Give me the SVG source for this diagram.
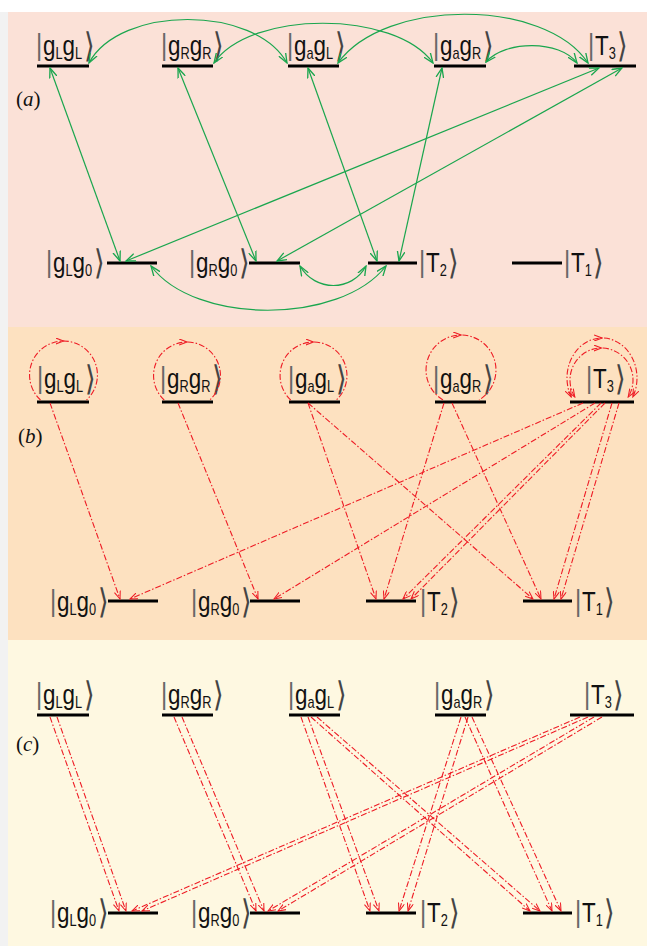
<svg xmlns="http://www.w3.org/2000/svg" width="647" height="946" viewBox="0 0 647 946">
<style>
.lv{stroke:#000;stroke-width:3}
.k{font-family:"Liberation Sans","DejaVu Sans",sans-serif;font-size:28px;fill:#111}
.s{font-size:16px}
.bb{font-size:30px;fill:#666}
.bk{font-family:"DejaVu Sans",sans-serif;font-size:34px;font-weight:200;fill:#444}
.pl{font-family:"Liberation Serif",serif;font-size:21px;fill:#111}
.g{fill:none;stroke:#1AA64E;stroke-width:1.2;marker-start:url(#ga);marker-end:url(#ga)}
.r{fill:none;stroke:#EE1C25;stroke-width:1.1;stroke-dasharray:6 2 1.5 2;marker-end:url(#ra)}
.lp{fill:none;stroke:#EE1C25;stroke-width:1.1;stroke-dasharray:6 2 1.5 2;marker-mid:url(#ra)}
.lp2{marker-start:url(#ra);marker-end:url(#ra)}
</style>
<defs>
<marker id="ga" viewBox="0 0 10 8" refX="9" refY="4" markerWidth="11" markerHeight="9" markerUnits="userSpaceOnUse" orient="auto-start-reverse"><path d="M0,0.5 L9,4 L0,7.5" fill="none" stroke="#1AA64E" stroke-width="1.2"/></marker>
<marker id="ra" viewBox="0 0 10 8" refX="9" refY="4" markerWidth="9" markerHeight="7" markerUnits="userSpaceOnUse" orient="auto-start-reverse"><path d="M0,0.5 L9,4 L0,7.5" fill="none" stroke="#EE1C25" stroke-width="1.2"/></marker>
</defs>
<rect x="0" y="0" width="647" height="946" fill="#fff"/>
<rect x="0" y="12" width="8" height="934" fill="#F2F2F2"/>
<rect x="8" y="12" width="639" height="315" fill="#FBE1D7"/>
<rect x="8" y="327" width="639" height="313" fill="#FDE1C0"/>
<rect x="8" y="640" width="639" height="306" fill="#FEF8E1"/>

<text class="pl" x="16" y="106">(<tspan font-style="italic">a</tspan>)</text>
<text class="pl" x="18" y="443">(<tspan font-style="italic">b</tspan>)</text>
<text class="pl" x="16" y="751">(<tspan font-style="italic">c</tspan>)</text>

<!-- Panel a nodes -->
<g id="a-gLgL"><line class="lv" x1="37" y1="66" x2="89" y2="66"/><text class="k" transform="translate(36 55) scale(.8 1)"><tspan class="bb">|</tspan><tspan dx="1">g</tspan><tspan class="s" dy="4">L</tspan><tspan dy="-4">g</tspan><tspan class="s" dy="4">L</tspan><tspan class="bk" dy="-2" dx="2">⟩</tspan></text></g>
<g id="a-gRgR"><line class="lv" x1="162" y1="66" x2="213" y2="66"/><text class="k" transform="translate(161 55) scale(.8 1)"><tspan class="bb">|</tspan><tspan dx="1">g</tspan><tspan class="s" dy="4">R</tspan><tspan dy="-4">g</tspan><tspan class="s" dy="4">R</tspan><tspan class="bk" dy="-2" dx="2">⟩</tspan></text></g>
<g id="a-gagL"><line class="lv" x1="288" y1="66" x2="339" y2="66"/><text class="k" transform="translate(287 55) scale(.8 1)"><tspan class="bb">|</tspan><tspan dx="1">g</tspan><tspan class="s" dy="4">a</tspan><tspan dy="-4">g</tspan><tspan class="s" dy="4">L</tspan><tspan class="bk" dy="-2" dx="2">⟩</tspan></text></g>
<g id="a-gagR"><line class="lv" x1="434" y1="66" x2="486" y2="66"/><text class="k" transform="translate(433 55) scale(.8 1)"><tspan class="bb">|</tspan><tspan dx="1">g</tspan><tspan class="s" dy="4">a</tspan><tspan dy="-4">g</tspan><tspan class="s" dy="4">R</tspan><tspan class="bk" dy="-2" dx="2">⟩</tspan></text></g>
<g id="a-T3"><line class="lv" x1="574" y1="66" x2="636" y2="66"/><text class="k" transform="translate(588 55) scale(.8 1)"><tspan class="bb">|</tspan><tspan dx="1">T</tspan><tspan class="s" dy="4">3</tspan><tspan class="bk" dy="-2" dx="2">⟩</tspan></text></g>
<g id="a-gLg0"><line class="lv" x1="107" y1="263" x2="157" y2="263"/><text class="k" transform="translate(46 272) scale(.8 1)"><tspan class="bb">|</tspan><tspan dx="1">g</tspan><tspan class="s" dy="4">L</tspan><tspan dy="-4">g</tspan><tspan class="s" dy="4">0</tspan><tspan class="bk" dy="-2" dx="2">⟩</tspan></text></g>
<g id="a-gRg0"><line class="lv" x1="249" y1="263" x2="300" y2="263"/><text class="k" transform="translate(189 272) scale(.8 1)"><tspan class="bb">|</tspan><tspan dx="1">g</tspan><tspan class="s" dy="4">R</tspan><tspan dy="-4">g</tspan><tspan class="s" dy="4">0</tspan><tspan class="bk" dy="-2" dx="2">⟩</tspan></text></g>
<g id="a-T2"><line class="lv" x1="368" y1="263" x2="417" y2="263"/><text class="k" transform="translate(419 272) scale(.8 1)"><tspan class="bb">|</tspan><tspan dx="1">T</tspan><tspan class="s" dy="4">2</tspan><tspan class="bk" dy="-2" dx="2">⟩</tspan></text></g>
<g id="a-T1"><line class="lv" x1="512" y1="263" x2="562" y2="263"/><text class="k" transform="translate(564 272) scale(.8 1)"><tspan class="bb">|</tspan><tspan dx="1">T</tspan><tspan class="s" dy="4">1</tspan><tspan class="bk" dy="-2" dx="2">⟩</tspan></text></g>

<!-- Panel b nodes -->
<g id="b-gLgL"><line class="lv" x1="37" y1="402" x2="89" y2="402"/><text class="k" transform="translate(37 388) scale(.8 1)"><tspan class="bb">|</tspan><tspan dx="1">g</tspan><tspan class="s" dy="4">L</tspan><tspan dy="-4">g</tspan><tspan class="s" dy="4">L</tspan><tspan class="bk" dy="-2" dx="2">⟩</tspan></text></g>
<g id="b-gRgR"><line class="lv" x1="162" y1="402" x2="213" y2="402"/><text class="k" transform="translate(160 388) scale(.8 1)"><tspan class="bb">|</tspan><tspan dx="1">g</tspan><tspan class="s" dy="4">R</tspan><tspan dy="-4">g</tspan><tspan class="s" dy="4">R</tspan><tspan class="bk" dy="-2" dx="2">⟩</tspan></text></g>
<g id="b-gagL"><line class="lv" x1="289" y1="402" x2="340" y2="402"/><text class="k" transform="translate(288 388) scale(.8 1)"><tspan class="bb">|</tspan><tspan dx="1">g</tspan><tspan class="s" dy="4">a</tspan><tspan dy="-4">g</tspan><tspan class="s" dy="4">L</tspan><tspan class="bk" dy="-2" dx="2">⟩</tspan></text></g>
<g id="b-gagR"><line class="lv" x1="435" y1="402" x2="486" y2="402"/><text class="k" transform="translate(433 388) scale(.8 1)"><tspan class="bb">|</tspan><tspan dx="1">g</tspan><tspan class="s" dy="4">a</tspan><tspan dy="-4">g</tspan><tspan class="s" dy="4">R</tspan><tspan class="bk" dy="-2" dx="2">⟩</tspan></text></g>
<g id="b-T3"><line class="lv" x1="570" y1="402" x2="634" y2="402"/><text class="k" transform="translate(586 388) scale(.8 1)"><tspan class="bb">|</tspan><tspan dx="1">T</tspan><tspan class="s" dy="4">3</tspan><tspan class="bk" dy="-2" dx="2">⟩</tspan></text></g>
<g id="b-gLg0"><line class="lv" x1="108" y1="601" x2="158" y2="601"/><text class="k" transform="translate(50 611) scale(.8 1)"><tspan class="bb">|</tspan><tspan dx="1">g</tspan><tspan class="s" dy="4">L</tspan><tspan dy="-4">g</tspan><tspan class="s" dy="4">0</tspan><tspan class="bk" dy="-2" dx="2">⟩</tspan></text></g>
<g id="b-gRg0"><line class="lv" x1="250" y1="601" x2="300" y2="601"/><text class="k" transform="translate(191 611) scale(.8 1)"><tspan class="bb">|</tspan><tspan dx="1">g</tspan><tspan class="s" dy="4">R</tspan><tspan dy="-4">g</tspan><tspan class="s" dy="4">0</tspan><tspan class="bk" dy="-2" dx="2">⟩</tspan></text></g>
<g id="b-T2"><line class="lv" x1="366" y1="601" x2="416" y2="601"/><text class="k" transform="translate(420 611) scale(.8 1)"><tspan class="bb">|</tspan><tspan dx="1">T</tspan><tspan class="s" dy="4">2</tspan><tspan class="bk" dy="-2" dx="2">⟩</tspan></text></g>
<g id="b-T1"><line class="lv" x1="523" y1="601" x2="572" y2="601"/><text class="k" transform="translate(575 611) scale(.8 1)"><tspan class="bb">|</tspan><tspan dx="1">T</tspan><tspan class="s" dy="4">1</tspan><tspan class="bk" dy="-2" dx="2">⟩</tspan></text></g>

<!-- Panel c nodes -->
<g id="c-gLgL"><line class="lv" x1="37" y1="715" x2="89" y2="715"/><text class="k" transform="translate(36 704) scale(.8 1)"><tspan class="bb">|</tspan><tspan dx="1">g</tspan><tspan class="s" dy="4">L</tspan><tspan dy="-4">g</tspan><tspan class="s" dy="4">L</tspan><tspan class="bk" dy="-2" dx="2">⟩</tspan></text></g>
<g id="c-gRgR"><line class="lv" x1="162" y1="715" x2="213" y2="715"/><text class="k" transform="translate(161 704) scale(.8 1)"><tspan class="bb">|</tspan><tspan dx="1">g</tspan><tspan class="s" dy="4">R</tspan><tspan dy="-4">g</tspan><tspan class="s" dy="4">R</tspan><tspan class="bk" dy="-2" dx="2">⟩</tspan></text></g>
<g id="c-gagL"><line class="lv" x1="289" y1="715" x2="340" y2="715"/><text class="k" transform="translate(288 704) scale(.8 1)"><tspan class="bb">|</tspan><tspan dx="1">g</tspan><tspan class="s" dy="4">a</tspan><tspan dy="-4">g</tspan><tspan class="s" dy="4">L</tspan><tspan class="bk" dy="-2" dx="2">⟩</tspan></text></g>
<g id="c-gagR"><line class="lv" x1="435" y1="715" x2="486" y2="715"/><text class="k" transform="translate(434 704) scale(.8 1)"><tspan class="bb">|</tspan><tspan dx="1">g</tspan><tspan class="s" dy="4">a</tspan><tspan dy="-4">g</tspan><tspan class="s" dy="4">R</tspan><tspan class="bk" dy="-2" dx="2">⟩</tspan></text></g>
<g id="c-T3"><line class="lv" x1="570" y1="715" x2="634" y2="715"/><text class="k" transform="translate(584 704) scale(.8 1)"><tspan class="bb">|</tspan><tspan dx="1">T</tspan><tspan class="s" dy="4">3</tspan><tspan class="bk" dy="-2" dx="2">⟩</tspan></text></g>
<g id="c-gLg0"><line class="lv" x1="108" y1="913" x2="158" y2="913"/><text class="k" transform="translate(50 922) scale(.8 1)"><tspan class="bb">|</tspan><tspan dx="1">g</tspan><tspan class="s" dy="4">L</tspan><tspan dy="-4">g</tspan><tspan class="s" dy="4">0</tspan><tspan class="bk" dy="-2" dx="2">⟩</tspan></text></g>
<g id="c-gRg0"><line class="lv" x1="250" y1="913" x2="300" y2="913"/><text class="k" transform="translate(191 922) scale(.8 1)"><tspan class="bb">|</tspan><tspan dx="1">g</tspan><tspan class="s" dy="4">R</tspan><tspan dy="-4">g</tspan><tspan class="s" dy="4">0</tspan><tspan class="bk" dy="-2" dx="2">⟩</tspan></text></g>
<g id="c-T2"><line class="lv" x1="366" y1="913" x2="416" y2="913"/><text class="k" transform="translate(420 922) scale(.8 1)"><tspan class="bb">|</tspan><tspan dx="1">T</tspan><tspan class="s" dy="4">2</tspan><tspan class="bk" dy="-2" dx="2">⟩</tspan></text></g>
<g id="c-T1"><line class="lv" x1="523" y1="913" x2="572" y2="913"/><text class="k" transform="translate(575 922) scale(.8 1)"><tspan class="bb">|</tspan><tspan dx="1">T</tspan><tspan class="s" dy="4">1</tspan><tspan class="bk" dy="-2" dx="2">⟩</tspan></text></g>

<g id="connectors">
<!-- panel a: green, two-way -->
<path class="g" d="M89 63 C120 5 255 5 287 63"/>
<path class="g" d="M214 63 C250 10 395 10 433 63"/>
<path class="g" d="M338 63 C385 -2 545 -2 588 63"/>
<path class="g" d="M486 62 C505 40 560 40 577 63"/>
<path class="g" d="M50 68 L120 261"/>
<path class="g" d="M178 68 L256 261"/>
<path class="g" d="M308 68 L377 261"/>
<path class="g" d="M442 68 L399 261"/>
<path class="g" d="M599 68 L126 261"/>
<path class="g" d="M622 68 L277 261"/>
<path class="g" d="M300 266 C315 292 352 292 366 266"/>
<path class="g" d="M151 266 C195 325 340 325 386 266"/>

<!-- panel b: red loops -->
<path class="lp" d="M40.5 400 A34 34 0 0 1 63.5 341 A34 34 0 0 1 86.5 400"/>
<path class="lp" d="M164.2 400 A33.5 33.5 0 0 1 187 342 A33.5 33.5 0 0 1 209.8 400"/>
<path class="lp" d="M290.7 400 A33.5 33.5 0 0 1 313.5 342 A33.5 33.5 0 0 1 336.3 400"/>
<path class="lp" d="M443 400 A35 35 0 0 1 461 335 A35 35 0 0 1 479 400"/>
<path class="lp lp2" d="M571.2 397 A35 40 0 0 1 602 338 A35 40 0 0 1 632.8 397"/>
<path class="lp lp2" d="M574.8 397 A31.5 32 0 0 1 601.5 348 A31.5 32 0 0 1 628.2 397"/>

<!-- panel b: red lines -->
<path class="r" d="M50 403 L120 599"/>
<path class="r" d="M178 403 L258 599"/>
<path class="r" d="M308 403 L376 599"/>
<path class="r" d="M308 403 L533 599"/>
<path class="r" d="M444 403 L384 599"/>
<path class="r" d="M452 403 L541 599"/>
<path class="r" d="M583 403 L130 599"/>
<path class="r" d="M595 403 L274 599"/>
<path class="r" d="M601 403 L403 599"/>
<path class="r" d="M605 403 L411 599"/>
<path class="r" d="M612 403 L554 599"/>
<path class="r" d="M619 403 L561 599"/>

<!-- panel c: red paired lines -->
<path class="r" d="M50 717 L119 911"/>
<path class="r" d="M57 717 L126 911"/>
<path class="r" d="M174 717 L256 911"/>
<path class="r" d="M182 717 L264 911"/>
<path class="r" d="M301 717 L370 911"/>
<path class="r" d="M308 717 L379 911"/>
<path class="r" d="M311 717 L530 911"/>
<path class="r" d="M317 717 L540 911"/>
<path class="r" d="M461 717 L399 911"/>
<path class="r" d="M468 717 L408 911"/>
<path class="r" d="M465 717 L552 911"/>
<path class="r" d="M472 717 L561 911"/>
<path class="r" d="M580 717 L132 911"/>
<path class="r" d="M588 717 L142 911"/>
<path class="r" d="M594 717 L268 911"/>
<path class="r" d="M602 717 L278 911"/>
</g>
</svg>
